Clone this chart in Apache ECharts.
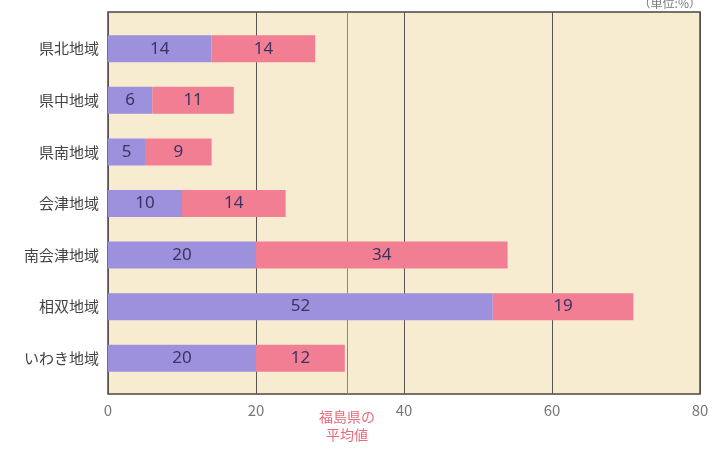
<!DOCTYPE html>
<html><head><meta charset="utf-8">
<script src="https://cdn.jsdelivr.net/npm/echarts@6/dist/echarts.min.js"></script>
<style>html,body{margin:0;padding:0;background:#fff;}#c{width:712px;height:450px;}</style>
</head><body><div id="c"></div>
<script>
const categories = ['県北地域','県中地域','県南地域','会津地域','南会津地域','相双地域','いわき地域'];
const seriesA = [14, 6, 5, 10, 20, 52, 20];
const seriesB = [14, 11, 9, 14, 34, 19, 12];
const xTicks = [0, 20, 40, 60, 80];
const prefAverage = 32.3;
const avgLabel = '福島県の\n平均値';
const unitLabel = '（単位:%）';

const FONT = '"Noto Sans CJK JP", "Noto Sans", sans-serif';
const chart = echarts.init(document.getElementById('c'));
chart.setOption({
  backgroundColor: '#ffffff',
  animation: false,
  title: { text: unitLabel, right: 6, top: -8, textStyle: { fontSize: 12, color: '#777', fontWeight: 'normal', fontFamily: FONT } },
  grid: [
    { left: 108, right: 12, top: 12, bottom: 56, show: true, backgroundColor: '#f8ecd0', borderColor: '#4a4440', borderWidth: 1.5, z: 0 },
    { left: 108, right: 12, top: 23, bottom: 66 }
  ],
  xAxis: [
    { type: 'value', gridIndex: 0, min: xTicks[0], max: xTicks[xTicks.length-1], interval: 20,
      axisLine: { show: false }, axisTick: { show: false },
      splitLine: { show: true, lineStyle: { color: '#5a5450', width: 1 } },
      axisLabel: { margin: 9, fontSize: 15, color: '#777', fontFamily: FONT } },
    { type: 'value', gridIndex: 1, min: xTicks[0], max: xTicks[xTicks.length-1], show: false, splitLine: { show: false } }
  ],
  yAxis: [
    { type: 'value', gridIndex: 0, min: 0, max: 1, show: false, splitLine: { show: false } },
    { type: 'category', gridIndex: 1, data: categories, inverse: true,
      axisLine: { show: false }, axisTick: { show: false },
      axisLabel: { margin: 9, fontSize: 15, color: '#444', fontFamily: FONT } }
  ],
  series: [
    { type: 'bar', xAxisIndex: 0, yAxisIndex: 0, data: [], z: 1,
      markLine: { symbol: 'none', silent: true, z: 1,
        lineStyle: { color: '#e2606a', width: 1, type: 'solid' },
        label: { show: true, position: 'start', formatter: avgLabel, color: '#ea6a7c', fontSize: 14, lineHeight: 18, fontFamily: FONT, distance: 14 },
        data: [{ xAxis: prefAverage }] } },
    { type: 'bar', xAxisIndex: 1, yAxisIndex: 1, stack: 's', data: seriesA, barWidth: 27, z: 5,
      itemStyle: { color: '#9d90dc' },
      label: { show: true, position: 'inside', fontSize: 17, color: '#3a3462', fontFamily: '"Noto Sans", sans-serif' } },
    { type: 'bar', xAxisIndex: 1, yAxisIndex: 1, stack: 's', data: seriesB, barWidth: 27, z: 5,
      itemStyle: { color: '#f27e93' },
      label: { show: true, position: 'inside', fontSize: 17, color: '#3a3462', fontFamily: '"Noto Sans", sans-serif' } }
  ]
});
</script></body></html>
